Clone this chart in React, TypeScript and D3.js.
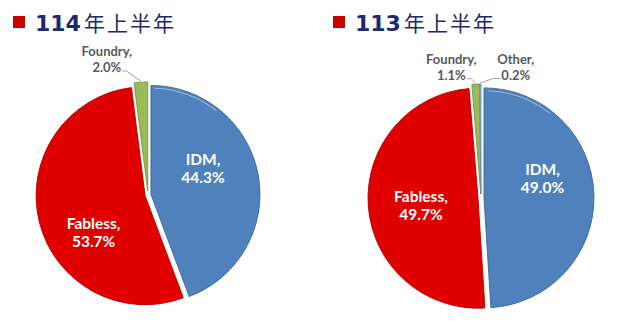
import React from "react";
import * as d3 from "d3";

// Semiconductor output share by company type, first half of the year
const categories = ["IDM", "Fabless", "Foundry", "Other"];
const share114 = [44.3, 53.7, 2.0];
const share113 = [49.0, 49.7, 1.1, 0.2];
const titleYears = ["114", "113"];
const titleSuffix = "年上半年";

const W = 620;
const H = 328;

const sliceColor: Record<string, string> = {
  IDM: "#4f81bd",
  Fabless: "#e00000",
  Foundry: "#9bbb59",
  Other: "#8eb4e3",
};

type LabelSpot = { angle: number; r: number; outside?: boolean; side?: "left" | "right" };

type PanelLayout = {
  cx: number;
  cy: number;
  radius: number;
  titleX: number;
  labelSpots: Record<string, LabelSpot>;
  outerBaseline: number;
};

const panels: PanelLayout[] = [
  {
    cx: 148,
    cy: 195,
    radius: 109,
    titleX: 13,
    outerBaseline: 56,
    labelSpots: {
      IDM: { angle: 64.3, r: 61 },
      Fabless: { angle: 235.5, r: 66 },
      Foundry: { angle: -16.6, r: 144, outside: true, side: "left" },
    },
  },
  {
    cx: 481,
    cy: 198,
    radius: 110,
    titleX: 333,
    outerBaseline: 63.5,
    labelSpots: {
      IDM: { angle: 72.4, r: 64.5 },
      Fabless: { angle: 262.9, r: 60.5 },
      Foundry: { angle: -12.4, r: 138, outside: true, side: "left" },
      Other: { angle: 14.7, r: 137, outside: true, side: "right" },
    },
  },
];

const seriesByPanel = [share114, share113];

const EXPLODE = 3;
const rad = (deg: number) => (deg * Math.PI) / 180;
const polar = (cx: number, cy: number, a: number, r: number): [number, number] => [
  cx + r * Math.sin(a),
  cy - r * Math.cos(a),
];

function PiePanel({ values, layout, year }: { values: number[]; layout: PanelLayout; year: string }) {
  const cats = categories.slice(0, values.length);
  const data = cats.map((c, i) => ({ cat: c, value: values[i] }));
  const pie = d3
    .pie<{ cat: string; value: number }>()
    .sort(null)
    .value((d) => d.value);
  const arcs = pie(data);
  const arcGen = d3
    .arc<d3.PieArcDatum<{ cat: string; value: number }>>()
    .innerRadius(0)
    .outerRadius(layout.radius);

  const gloss = d3.arc()({
    innerRadius: layout.radius - 3.2,
    outerRadius: layout.radius - 2.2,
    startAngle: rad(2),
    endAngle: rad(38),
  } as any);

  const { cx, cy } = layout;

  return (
    <g>
      {/* title */}
      <rect x={layout.titleX} y={16} width={12} height={12} fill="#cc0000" />
      <text x={layout.titleX + 22} y={31} fill="#1a2a6c" style={{ fontSize: 22 }}>
        <tspan style={{ fontFamily: "'DejaVu Sans', sans-serif", fontWeight: 700 }}>{year}</tspan>
        <tspan
          dx={3}
          style={{ fontFamily: "'Noto Sans CJK TC', sans-serif", fontWeight: 400, fontSize: 21, letterSpacing: 2 }}
        >
          {titleSuffix}
        </tspan>
      </text>

      {/* slices, each pulled slightly outward */}
      {arcs.map((a) => {
        const mid = (a.startAngle + a.endAngle) / 2;
        const e = a.data.cat === "Foundry" || a.data.cat === "Other" ? EXPLODE + 1 : EXPLODE;
        const [ox, oy] = polar(0, 0, mid, e);
        const fill = sliceColor[a.data.cat];
        return (
          <g key={a.data.cat} transform={`translate(${cx + ox},${cy + oy})`}>
            <path d={arcGen(a) || ""} fill={fill} stroke={d3.color(fill)!.darker(0.7).toString()} strokeWidth={0.9} />
            {a.data.cat === "IDM" && (
              <path d={gloss || ""} fill="#ffffff" opacity={0.45} />
            )}
          </g>
        );
      })}

      {/* labels */}
      {arcs.map((a) => {
        const spot = layout.labelSpots[a.data.cat];
        if (!spot) return null;
        const label = `${a.data.cat},`;
        const pct = `${a.data.value.toFixed(1)}%`;
        if (!spot.outside) {
          const [lx, ly] = polar(cx, cy, rad(spot.angle), spot.r);
          return (
            <text
              key={a.data.cat}
              x={lx}
              textAnchor="middle"
              fill="#ffffff"
              style={{ fontFamily: "Lato, sans-serif", fontWeight: 700, fontSize: 15.5 }}
            >
              <tspan x={lx} y={ly - 3.5}>{label}</tspan>
              <tspan x={lx} y={ly + 14.5}>{pct}</tspan>
            </text>
          );
        }
        const [lx] = polar(cx, cy, rad(spot.angle), spot.r);
        const b1 = layout.outerBaseline;
        const b2 = b1 + 16;
        const mid = (a.startAngle + a.endAngle) / 2;
        const [ex, ey] = polar(cx, cy, mid, layout.radius + EXPLODE + 2);
        const pctHalf = pct.length * 3.4;
        const startX = spot.side === "left" ? lx + pctHalf + 2 : lx - pctHalf - 2;
        const elbowX = spot.side === "left" ? startX + 4 : startX - 7;
        const lineY = b2 - 1;
        return (
          <g key={a.data.cat}>
            <text
              x={lx}
              textAnchor="middle"
              fill="#595959"
              style={{ fontFamily: "Lato, sans-serif", fontWeight: 700, fontSize: 13 }}
            >
              <tspan x={lx} y={b1}>{label}</tspan>
              <tspan x={lx} y={b2}>{pct}</tspan>
            </text>
            <polyline
              points={`${startX},${lineY} ${elbowX},${lineY} ${ex},${ey}`}
              fill="none"
              stroke="#8c8c8c"
              strokeWidth={0.8}
            />
          </g>
        );
      })}
    </g>
  );
}

export default function App() {
  return (
    <svg
      width={W}
      height={H}
      viewBox={`0 0 ${W} ${H}`}
      style={{ position: "absolute", left: 0, top: 0, background: "#ffffff" }}
    >
      {panels.map((p, i) => (
        <PiePanel key={i} values={seriesByPanel[i]} layout={p} year={titleYears[i]} />
      ))}
    </svg>
  );
}
